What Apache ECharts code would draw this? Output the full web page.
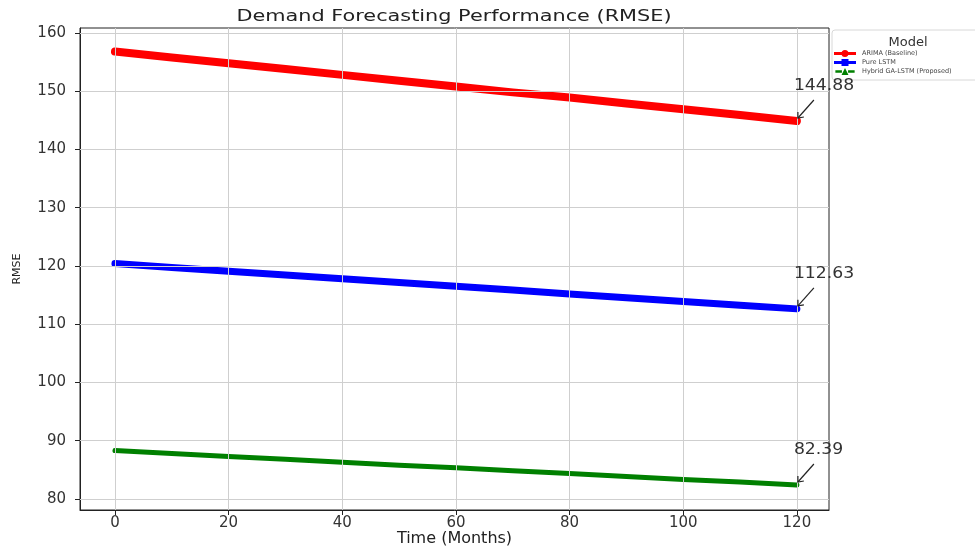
<!DOCTYPE html>
<html>
<head>
<meta charset="utf-8">
<script src="https://cdn.jsdelivr.net/npm/echarts@6/dist/echarts.min.js"></script>
<style>html,body{margin:0;padding:0;background:#fff}#c{width:975px;height:548px}</style>
</head>
<body>
<div id="c"></div>
<script>
// Data
const months = [0, 10, 20, 30, 40, 50, 60, 70, 80, 90, 100, 110, 120];
const arima = [156.8, 155.8, 154.8, 153.8, 152.8, 151.8, 150.8, 149.8, 148.9, 147.9, 146.9, 145.9, 144.88];
const lstm = [120.4, 119.75, 119.1, 118.45, 117.8, 117.15, 116.5, 115.85, 115.2, 114.55, 113.9, 113.25, 112.63];
const hybrid = [88.3, 87.8, 87.3, 86.8, 86.3, 85.8, 85.35, 84.85, 84.35, 83.85, 83.35, 82.9, 82.39];
const seriesNames = ['ARIMA (Baseline)', 'Pure LSTM', 'Hybrid GA-LSTM (Proposed)'];
const xTicks = [0, 20, 40, 60, 80, 100, 120];
const yTicks = [80, 90, 100, 110, 120, 130, 140, 150, 160];

const FONT = 'DejaVu Sans';
const chart = echarts.init(document.getElementById('c'), null, {renderer: 'canvas'});

function mk(name, vals, color, width) {
  return {
    name: name, type: 'line',
    data: months.map((m, i) => [m, vals[i]]),
    symbol: 'none', showSymbol: false,
    lineStyle: {color: color, width: width, cap: 'round', join: 'round'},
    itemStyle: {color: color},
    silent: true, animation: false
  };
}

const option = {
  animation: false,
  grid: {left: 80, right: 146, top: 28, bottom: 38, show: true, borderColor: '#222', borderWidth: 1,
         backgroundColor: 'transparent', containLabel: false, outerBoundsMode: 'none'},
  legend: {
    left: 832, top: 30, orient: 'vertical', itemGap: 2,
    itemWidth: 22, itemHeight: 7,
    textStyle: {fontFamily: FONT, fontSize: 6.5, color: '#444', padding: [0, 0, 0, 1]},
    data: [
      {name: seriesNames[0], icon: 'path://M0,3.5h8v3h-8z M14,3.5h8v3h-8z M11,1.5a3.5,3.5 0 1,1 -0.01,0z'},
      {name: seriesNames[1], icon: 'path://M0,3.5h8v3h-8z M14,3.5h8v3h-8z M7.5,1.5h7v7h-7z'},
      {name: seriesNames[2], icon: 'path://M0,3.5h7.5v3h-7.5z M14.5,3.5h7.5v3h-7.5z M11,1l4,8h-8z'}
    ],
    backgroundColor: '#fff', borderColor: '#d8d8d8', borderWidth: 1, borderRadius: 3,
    padding: [20, 60, 5, 2]
  },
  xAxis: {
    type: 'value', min: -6.15, max: 125.65,
    name: 'Time (Months)', nameLocation: 'middle', nameGap: 21, nameMoveOverlap: false,
    nameTextStyle: {fontFamily: FONT, fontSize: 16, color: '#222'},
    axisLine: {show: true, onZero: false, lineStyle: {color: '#222'}},
    axisTick: {show: true, inside: false, length: 5, customValues: xTicks, lineStyle: {color: '#222'}},
    axisLabel: {customValues: xTicks, fontFamily: FONT, fontSize: 15, color: '#333', margin: 6},
    splitLine: {show: false}
  },
  yAxis: {
    type: 'value', min: 78.1, max: 160.85,
    name: 'RMSE', nameLocation: 'middle', nameGap: 57, nameRotate: 90, nameMoveOverlap: false,
    nameTextStyle: {fontFamily: FONT, fontSize: 11, color: '#222'},
    axisLine: {show: true, onZero: false, lineStyle: {color: '#222'}},
    axisTick: {show: true, inside: false, length: 5, customValues: yTicks, lineStyle: {color: '#222'}},
    axisLabel: {customValues: yTicks, fontFamily: FONT, fontSize: 15, color: '#333', margin: 14},
    splitLine: {show: false}
  },
  series: [
    {
      name: '_grid', type: 'line', data: [], silent: true,
      markLine: {
        symbol: 'none', silent: true, label: {show: false},
        lineStyle: {color: '#cfcfcf', width: 1, type: 'solid'},
        data: xTicks.map(v => ({xAxis: v})).concat(yTicks.map(v => ({yAxis: v})))
      }
    },
    mk(seriesNames[0], arima, '#ff0000', 8),
    mk(seriesNames[1], lstm, '#0000ff', 7),
    mk(seriesNames[2], hybrid, '#008000', 5)
  ]
};
chart.setOption(option);

// annotations at the last point of each series
const lastVals = [arima, lstm, hybrid].map(a => a[a.length - 1]);
const lastX = months[months.length - 1];
const g = [];
lastVals.forEach(v => {
  const p = chart.convertToPixel({xAxisIndex: 0, yAxisIndex: 0}, [lastX, v]);
  g.push({
    type: 'text', x: p[0] - 3, y: p[1] - 42, scaleX: 1.15,
    style: {text: v.toFixed(2), font: '15px "DejaVu Sans"', fill: '#333'}, z: 100
  });
  g.push({
    type: 'line', shape: {x1: p[0] + 17, y1: p[1] - 21, x2: p[0] + 1, y2: p[1] - 3},
    style: {stroke: '#222', lineWidth: 1.2}, z: 100
  });
  g.push({
    type: 'polyline', shape: {points: [[p[0] + 1, p[1] - 9], [p[0] + 1, p[1] - 3], [p[0] + 7, p[1] - 4]]},
    style: {stroke: '#222', lineWidth: 1.2, fill: 'none'}, z: 100
  });
});
// title (horizontally stretched like the reference)
g.push({
  type: 'text', x: 454, y: 17, scaleX: 1.3,
  style: {text: 'Demand Forecasting Performance (RMSE)', font: '16px "DejaVu Sans"', fill: '#222', align: 'center', verticalAlign: 'middle'}, z: 100
});
g.push({
  type: 'text', x: 908, y: 43,
  style: {text: 'Model', font: '13px "DejaVu Sans"', fill: '#333', align: 'center', verticalAlign: 'middle'}, z: 100
});
chart.setOption({graphic: g});
</script>
</body>
</html>
